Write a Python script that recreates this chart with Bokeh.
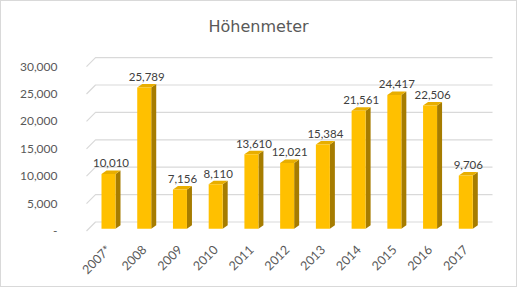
import math
from bokeh.plotting import figure
from bokeh.models import FixedTicker, ColumnDataSource, Range1d
from bokeh.embed import file_html
from bokeh.resources import INLINE
from bokeh.core.properties import value

# ---- data ----
years = ["2007*", "2008", "2009", "2010", "2011", "2012", "2013", "2014", "2015", "2016", "2017"]
meters = [10010, 25789, 7156, 8110, 13610, 12021, 15384, 21561, 24417, 22506, 9706]
y_ticks = [0, 5000, 10000, 15000, 20000, 25000, 30000]
y_tick_labels = ["-", "5,000", "10,000", "15,000", "20,000", "25,000", "30,000"]
title_text = "Höhenmeter"

# ---- layout / style constants (pixels) ----
W, H = 517, 287
ML, MR, MT, MB = 65, 17, 39, 52
FW, FH = W - ML - MR, H - MT - MB
SLOT_PX = 35.73          # pixels between bar centres
PX_PER_1000 = 5.48       # vertical pixels per 1000 m
BAR0_PX = 107.0          # canvas x of first bar centre
ZERO_PX = 229.5          # canvas y of value 0 on the front edge
BAR_W_PX = 14.0
DEPTH_DX, DEPTH_DY = 5.0, 3.5     # bar depth offset
FLOOR_DX, FLOOR_DY = 9.0, 9.0     # wall depth offset
BAR_SHIFT_PX = 2.2                # bars sit slightly behind front edge
GRID_X0_PX, GRID_X1_PX = 85.0, 491.0
TITLE_LEFT_PX = 207

ux = 1.0 / SLOT_PX
uy = 1000.0 / PX_PER_1000
x_start = (ML - BAR0_PX) * ux
x_end = x_start + FW * ux
y_start = -(MT + FH - ZERO_PX) * uy
y_end = (ZERO_PX - MT) * uy

p = figure(width=W, height=H, output_backend="svg", toolbar_location=None,
           x_range=Range1d(x_start, x_end), y_range=Range1d(y_start, y_end),
           min_border_left=ML, min_border_right=MR, min_border_top=MT, min_border_bottom=MB,
           background_fill_color="white", border_fill_color="white",
           title=title_text)
p.styles = {"border": "1px solid #D9D9D9"}
p.outline_line_color = None
p.xgrid.visible = False
p.ygrid.visible = False

p.title.align = "left"
p.title.offset = TITLE_LEFT_PX - ML
p.title.text_font = "DejaVu Sans"
p.title.text_font_size = "16px"
p.title.text_font_style = "normal"
p.title.text_color = "#595959"

# gridlines with 3D wall bend
gx0 = (GRID_X0_PX - BAR0_PX) * ux
gx1 = (GRID_X1_PX - BAR0_PX) * ux
xs, ys = [], []
for v in y_ticks:
    xs.append([gx0, gx0 + FLOOR_DX * ux, gx1])
    ys.append([v, v + FLOOR_DY * uy, v + FLOOR_DY * uy])
p.multi_line(xs, ys, line_color="#D9D9D9", line_width=1.2)

# bars
idx = list(range(len(years)))
hw = BAR_W_PX / 2 * ux
off = BAR_SHIFT_PX * uy
ddx, ddy = DEPTH_DX * ux, DEPTH_DY * uy
left = [i - hw for i in idx]
right = [i + hw for i in idx]
bottom = [off for _ in idx]
top = [m + off for m in meters]

side_x = [[r, r + ddx, r + ddx, r] for r in right]
side_y = [[off, off + ddy, t + ddy, t] for t in top]
top_x = [[l, l + ddx, r + ddx, r] for l, r in zip(left, right)]
top_y = [[t, t + ddy, t + ddy, t] for t in top]

p.patches(side_x, side_y, fill_color="#A67C00", line_color=None)
p.patches(top_x, top_y, fill_color="#E8AE00", line_color=None)
p.quad(left=left, right=right, bottom=bottom, top=top, fill_color="#FFC000", line_color=None)

# value labels
src = ColumnDataSource(dict(x=[i + ddx / 2 for i in idx], y=[t + ddy for t in top],
                            t=[f"{m:,}" for m in meters]))
p.text(x="x", y="y", text="t", source=src, text_align="center", text_baseline="alphabetic",
       y_offset=-7, text_font=value("Lato"), text_font_size="11.5px", text_color="#404040")

# axes
p.yaxis.ticker = FixedTicker(ticks=y_ticks)
p.yaxis.major_label_overrides = {v: s for v, s in zip(y_ticks, y_tick_labels)}
p.xaxis.ticker = FixedTicker(ticks=idx)
p.xaxis.major_label_overrides = {i: y for i, y in zip(idx, years)}
p.xaxis.major_label_orientation = math.pi / 4
for ax in (p.xaxis[0], p.yaxis[0]):
    ax.axis_line_color = None
    ax.major_tick_line_color = None
    ax.minor_tick_line_color = None
    ax.major_label_text_font = "Lato"
    ax.major_label_text_font_size = "12px"
    ax.major_label_text_color = "#595959"
p.xaxis.major_label_text_font_size = "12.5px"
p.yaxis.major_label_standoff = 3
p.xaxis.major_label_standoff = 5

open("out.html", "w").write(file_html(p, INLINE))
